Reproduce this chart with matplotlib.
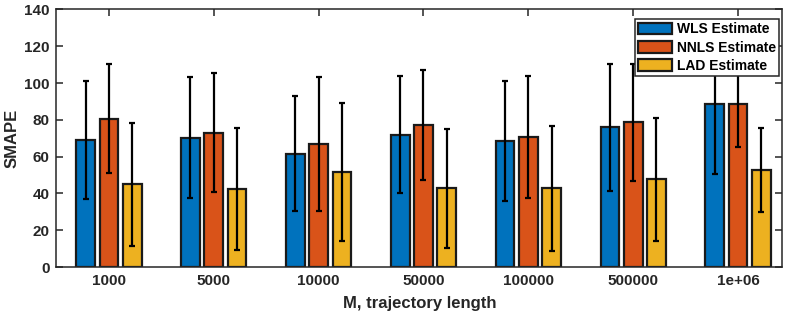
import numpy as np
import matplotlib
matplotlib.use("Agg")
import matplotlib.pyplot as plt

categories = ["1000", "5000", "10000", "50000", "100000", "500000", "1e+06"]
series_names = ["WLS Estimate", "NNLS Estimate", "LAD Estimate"]
wls_mean = [69.1, 70.2, 61.7, 72.0, 68.5, 76.0, 88.4]
wls_err = [31.9, 32.9, 31.3, 31.8, 32.5, 34.6, 37.8]
nnls_mean = [80.7, 73.1, 67.1, 77.2, 70.5, 78.7, 88.8]
nnls_err = [29.5, 32.5, 36.4, 29.7, 33.2, 31.8, 23.7]
lad_mean = [44.9, 42.5, 51.7, 42.7, 42.7, 47.6, 52.8]
lad_err = [33.4, 33.3, 37.3, 32.4, 34.1, 33.3, 22.8]

means = [wls_mean, nnls_mean, lad_mean]
errs = [wls_err, nnls_err, lad_err]
colors = ["#0072BD", "#D95319", "#EDB120"]

plt.rcParams["font.family"] = ["Liberation Sans", "DejaVu Sans"]
plt.rcParams["font.weight"] = "bold"

fig = plt.figure(figsize=(7.89, 3.16), dpi=100)
ax = fig.add_axes([0.0716, 0.155, 0.9196, 0.815])

x = np.arange(1, len(categories) + 1)
offsets = [-0.222, 0.0, 0.222]
width = 0.178
edge = "#1a1a1a"
for m, e, c, off, name in zip(means, errs, colors, offsets, series_names):
    ax.bar(x + off, m, width=width, color=c, edgecolor=edge, linewidth=1.6,
           label=name, zorder=2)
    ax.errorbar(x + off, m, yerr=e, fmt="none", ecolor="black", elinewidth=1.6,
                capsize=2.4, capthick=1.6, zorder=3)

ax.set_xlim(0.5, 7.42)
ax.set_ylim(0, 140)
ax.set_yticks(np.arange(0, 141, 20))
ax.set_xticks(x)
ax.set_xticklabels(categories)
ax.tick_params(direction="in", top=True, right=True, length=5, width=1.1,
               color="#262626", labelsize=11, labelcolor="#262626", pad=5)
for lab in ax.get_xticklabels() + ax.get_yticklabels():
    lab.set_fontweight("bold")
for s in ax.spines.values():
    s.set_color("#262626")
    s.set_linewidth(1.1)

ax.set_xlabel("M, trajectory length", fontsize=12, fontweight="bold", color="#262626", labelpad=6)
ax.set_ylabel("SMAPE", fontsize=12, fontweight="bold", color="#262626", labelpad=3)

leg = ax.legend(loc="upper right", bbox_to_anchor=(0.996, 0.963), borderaxespad=0,
                frameon=True, fancybox=False,
                borderpad=0.25, labelspacing=0.3, handlelength=2.45, handleheight=0.9,
                handletextpad=0.3, prop={"weight": "bold", "size": 10})
leg.get_frame().set_edgecolor("#262626")
leg.get_frame().set_linewidth(1.1)
leg.get_frame().set_alpha(1)

fig.savefig("out.png", dpi=100)
